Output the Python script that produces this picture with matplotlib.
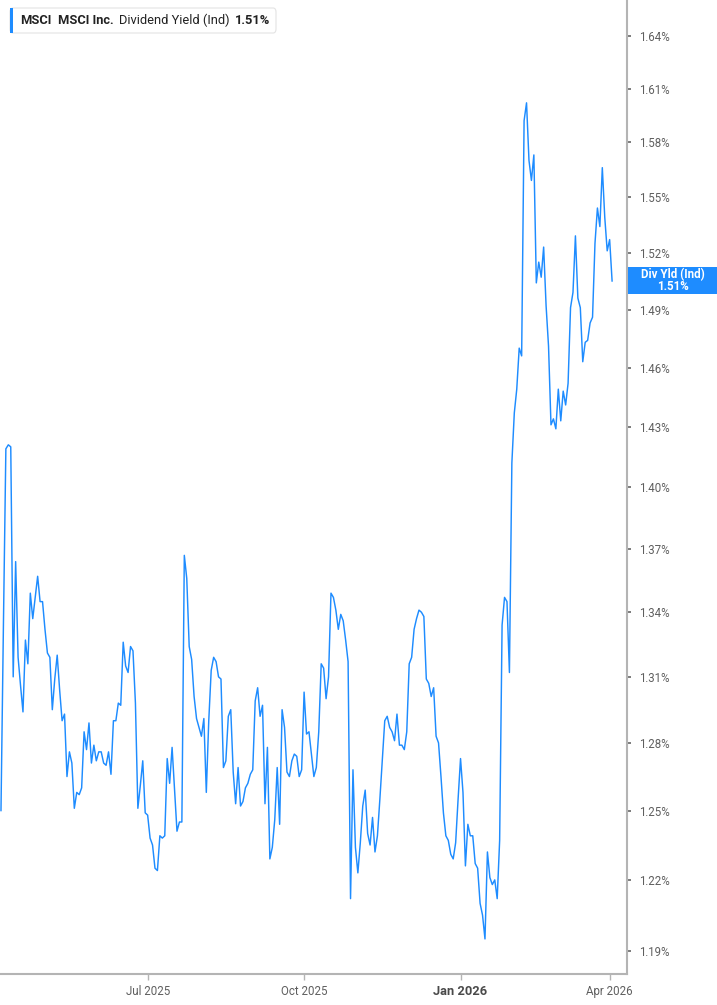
import matplotlib
matplotlib.use("Agg")
import matplotlib.pyplot as plt
import numpy as np
import pandas as pd
from matplotlib.patches import FancyBboxPatch, Rectangle
from matplotlib.ticker import FixedLocator, FixedFormatter, NullLocator

# ---------------- data ----------------
ticker_symbol = "MSCI"
company_name = "MSCI Inc."
metric_name = "Dividend Yield (Ind)"
last_value_label = "1.51%"
badge_title = "Div Yld (Ind)"

start_date = "2025-04-03"
market_holidays = ["2025-04-18", "2025-05-26", "2025-06-19", "2025-07-04",
                   "2025-09-01", "2025-11-27", "2025-12-25", "2026-01-01",
                   "2026-01-19", "2026-02-16"]

y_tick_values = [1.19, 1.22, 1.25, 1.28, 1.31, 1.34, 1.37, 1.40,
                 1.43, 1.46, 1.49, 1.52, 1.55, 1.58, 1.61, 1.64]
y_tick_labels = ["1.19%", "1.22%", "1.25%", "1.28%", "1.31%", "1.34%", "1.37%", "1.40%",
                 "1.43%", "1.46%", "1.49%", "1.52%", "1.55%", "1.58%", "1.61%", "1.64%"]
x_tick_months = ["2025-07-01", "2025-10-01", "2026-01-01", "2026-04-01"]
x_tick_labels = ["Jul 2025", "Oct 2025", "Jan 2026", "Apr 2026"]
x_tick_bold = [False, False, True, False]

div_yield = [
    1.250, 1.334, 1.419, 1.421, 1.420, 1.310, 1.364, 1.319, 1.306, 1.294,
    1.327, 1.316, 1.349, 1.337, 1.347, 1.357, 1.345, 1.345, 1.332, 1.321,
    1.319, 1.295, 1.309, 1.320, 1.304, 1.290, 1.293, 1.265, 1.276, 1.271,
    1.251, 1.258, 1.257, 1.260, 1.285, 1.277, 1.289, 1.271, 1.279, 1.272,
    1.276, 1.276, 1.271, 1.270, 1.276, 1.266, 1.290, 1.290, 1.298, 1.297,
    1.326, 1.315, 1.312, 1.324, 1.322, 1.298, 1.251, 1.261, 1.272, 1.249,
    1.248, 1.238, 1.235, 1.225, 1.224, 1.239, 1.238, 1.239, 1.273, 1.262,
    1.278, 1.259, 1.241, 1.245, 1.245, 1.367, 1.356, 1.324, 1.318, 1.301,
    1.291, 1.287, 1.283, 1.291, 1.258, 1.290, 1.313, 1.319, 1.317, 1.310,
    1.309, 1.269, 1.272, 1.292, 1.295, 1.267, 1.253, 1.269, 1.252, 1.254,
    1.260, 1.262, 1.266, 1.268, 1.299, 1.305, 1.292, 1.297, 1.253, 1.278,
    1.229, 1.234, 1.246, 1.269, 1.244, 1.295, 1.287, 1.267, 1.265, 1.272,
    1.275, 1.274, 1.265, 1.268, 1.303, 1.284, 1.285, 1.275, 1.265, 1.269,
    1.285, 1.316, 1.314, 1.300, 1.310, 1.349, 1.347, 1.341, 1.332, 1.339,
    1.336, 1.327, 1.317, 1.212, 1.268, 1.234, 1.223, 1.236, 1.252, 1.259,
    1.240, 1.235, 1.247, 1.232, 1.239, 1.255, 1.272, 1.290, 1.292, 1.287,
    1.285, 1.281, 1.293, 1.279, 1.279, 1.277, 1.285, 1.316, 1.319, 1.332,
    1.337, 1.341, 1.340, 1.338, 1.309, 1.307, 1.301, 1.305, 1.283, 1.280,
    1.265, 1.249, 1.239, 1.237, 1.231, 1.229, 1.236, 1.255, 1.273, 1.258,
    1.226, 1.244, 1.239, 1.239, 1.227, 1.225, 1.210, 1.205, 1.195, 1.232,
    1.221, 1.218, 1.220, 1.212, 1.237, 1.334, 1.347, 1.345, 1.312, 1.412,
    1.437, 1.449, 1.470, 1.466, 1.592, 1.602, 1.570, 1.559, 1.573, 1.504,
    1.515, 1.507, 1.523, 1.492, 1.471, 1.431, 1.434, 1.429, 1.449, 1.433,
    1.448, 1.441, 1.452, 1.491, 1.499, 1.529, 1.496, 1.491, 1.463, 1.473,
    1.474, 1.483, 1.486, 1.525, 1.544, 1.534, 1.566, 1.539, 1.521, 1.527,
    1.505,
]

# ---------------- styling ----------------
LINE_BLUE = "#1e8cff"
AXIS_GREY = "#b4b4b4"
LABEL_GREY = "#5f5f5f"
FONT = ["Roboto", "DejaVu Sans"]
plt.rcParams["font.family"] = FONT

W, H = 717, 1005
fig = plt.figure(figsize=(W / 100, H / 100), dpi=100)
fig.patch.set_facecolor("white")

ax_left_px, ax_right_px, ax_bottom_px, ax_top_px = 0, 627, 974, 0
ax = fig.add_axes([ax_left_px / W, (H - ax_bottom_px) / H,
                   (ax_right_px - ax_left_px) / W, (ax_bottom_px - ax_top_px) / H])

dates = pd.bdate_range(start=start_date, periods=len(div_yield), freq="C",
                       holidays=market_holidays)
xpos = np.arange(len(div_yield))
ax.plot(xpos, div_yield, color=LINE_BLUE, lw=1.05, solid_joinstyle="round")

ax.set_yscale("log")
ax.set_ylim(1.1804, 1.6608)
ax.set_xlim(-0.4, len(div_yield) - 1 + 6.1)

ax.yaxis.set_major_locator(FixedLocator(y_tick_values))
ax.yaxis.set_major_formatter(FixedFormatter(y_tick_labels))
ax.yaxis.set_minor_locator(NullLocator())
ax.yaxis.tick_right()
ax.tick_params(axis="y", which="major", direction="out", length=3, width=1.2,
               color="#666666", pad=6, labelsize=8.3, labelcolor=LABEL_GREY)

tick_idx = [int(dates.searchsorted(pd.Timestamp(m))) for m in x_tick_months]
ax.xaxis.set_major_locator(FixedLocator(tick_idx))
ax.xaxis.set_major_formatter(FixedFormatter(x_tick_labels))
ax.xaxis.set_minor_locator(NullLocator())
ax.tick_params(axis="x", which="major", direction="out", length=4, width=1,
               color=AXIS_GREY, pad=4, labelsize=8.3, labelcolor=LABEL_GREY)
for lbl, bold in zip(ax.get_xticklabels(), x_tick_bold):
    if bold:
        lbl.set_fontweight("bold")
        lbl.set_fontsize(9.3)
        lbl.set_color("#4a4a4a")

for s in ["left", "top"]:
    ax.spines[s].set_visible(False)
for s in ["right", "bottom"]:
    ax.spines[s].set_color(AXIS_GREY)
    ax.spines[s].set_linewidth(1.5)

# ---------------- last value badge ----------------
fig.canvas.draw()
last_y_disp = ax.transData.transform((0, div_yield[-1]))[1]
last_y_px = H - last_y_disp  # from top
badge_h = 27
fig.patches.append(Rectangle((628 / W, (H - (last_y_px + badge_h / 2)) / H),
                             (W - 628) / W, badge_h / H, transform=fig.transFigure,
                             facecolor=LINE_BLUE, edgecolor="none", zorder=5))
fig.text(673 / W, (H - (last_y_px - 6)) / H, badge_title, ha="center", va="center",
         color="white", fontsize=8.3, fontweight="bold", zorder=6)
fig.text(673 / W, (H - (last_y_px + 6)) / H, last_value_label, ha="center", va="center",
         color="white", fontsize=8.3, fontweight="bold", zorder=6)

# ---------------- header legend ----------------
box_x0, box_y0, box_x1, box_y1 = 10, 8, 276, 33
fig.patches.append(FancyBboxPatch((box_x0 / W, (H - box_y1) / H),
                                  (box_x1 - box_x0) / W, (box_y1 - box_y0) / H,
                                  boxstyle="round,pad=0,rounding_size=0.004",
                                  transform=fig.transFigure, facecolor="white",
                                  edgecolor="#e3e3e3", lw=0.8, zorder=5))
fig.patches.append(Rectangle((box_x0 / W, (H - box_y1) / H), 3 / W, (box_y1 - box_y0) / H,
                             transform=fig.transFigure, facecolor=LINE_BLUE,
                             edgecolor="none", zorder=6))
ymid = (H - (box_y0 + box_y1) / 2) / H
parts = [(20, ticker_symbol, "bold"), (58, company_name, "bold"),
         (119, metric_name, "normal"), (235, last_value_label, "bold")]
for xp, txt, wt in parts:
    fig.text(xp / W, ymid, txt, ha="left", va="center", fontsize=9.3,
             fontweight=wt, color="#222222", zorder=7)

fig.savefig("out.png", dpi=100, facecolor="white")
